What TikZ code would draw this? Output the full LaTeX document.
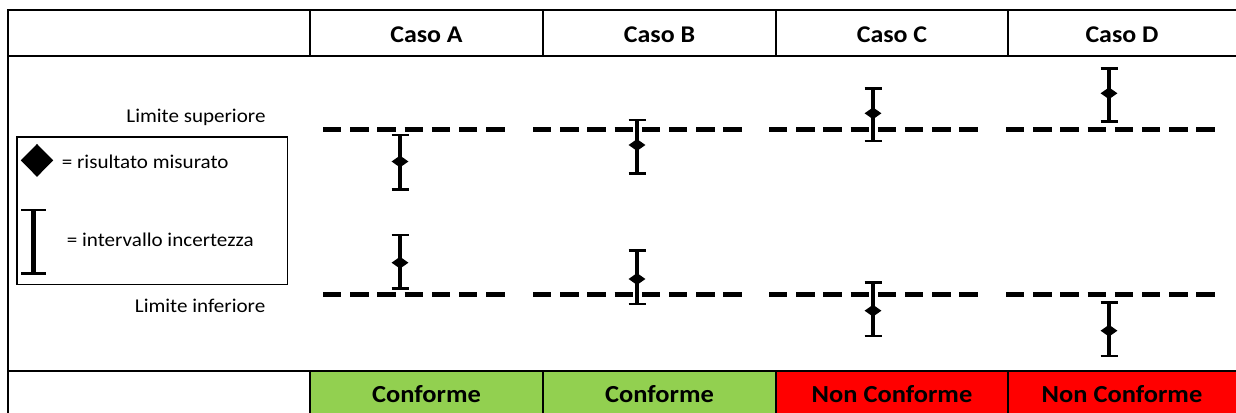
\documentclass[tikz,border=0pt]{standalone}
\usepackage{fontspec}
\setmainfont{Carlito}[FakeStretch=1.08]
\usetikzlibrary{shapes.geometric}
\definecolor{okgreen}{HTML}{92D050}
\definecolor{kored}{HTML}{FF0000}
\tikzset{
  grid/.style={line width=2pt, line cap=rect},
  head/.style={font=\fontsize{24}{28}\selectfont\bfseries, anchor=base},
  verdict/.style={font=\fontsize{24.5}{28}\selectfont\bfseries, anchor=base},
  lbl/.style={font=\fontsize{19.5}{23}\selectfont, inner sep=0pt},
  limline/.style={line width=4.6pt, dash pattern=on 18.3pt off 8.9pt},
  ebarline/.style={line width=3.4pt},
  ebarcap/.style={line width=2.8pt},
  dmd/.style={diamond, fill=black, inner sep=0pt, minimum width=17pt, minimum height=12pt},
  legbox/.style={line width=1.6pt}
}
% error bar: #1 name, #2 x, #3 top, #4 diamond y, #5 bottom
\newcommand{\drawebar}[5]{%
  \coordinate (#1t) at (#2,#3);
  \coordinate (#1b) at (#2,#5);
  \draw[ebarline] (#1t) -- (#1b);
  \draw[ebarcap] ([xshift=-8.5pt]#1t) -- ([xshift=8.5pt]#1t);
  \draw[ebarcap] ([xshift=-8.5pt]#1b) -- ([xshift=8.5pt]#1b);
  \node[dmd] (#1d) at (#2,#4) {};
}
\begin{document}
\begin{tikzpicture}[x=1pt,y=-1pt]
\useasboundingbox (0,0) rectangle (1236,412);
% bottom row fills
\fill[okgreen] (310,371) rectangle (776,420);
\fill[kored] (776,371) rectangle (1245,420);
% table lines
\draw[grid] (1245,10.5) -- (7.5,10.5) -- (7.5,420);
\draw[grid] (7.5,56.5) -- (1245,56.5);
\draw[grid] (7.5,371) -- (1245,371);
\foreach \cx in {310,543,776,1008}{
  \draw[grid] (\cx,10.5) -- (\cx,56.5);
  \draw[grid] (\cx,371) -- (\cx,420);
}
% headers
\node[head] (hA) at (426.5,43) {Caso A};
\node[head] (hB) at (659.5,43) {Caso B};
\node[head] (hC) at (892,43) {Caso C};
\node[head] (hD) at (1122,43) {Caso D};
% verdicts
\node[verdict] (vA) at (426.5,402.7) {Conforme};
\node[verdict] (vB) at (659.5,402.7) {Conforme};
\node[verdict] (vC) at (892,402.7) {Non Conforme};
\node[verdict] (vD) at (1122,402.7) {Non Conforme};
% limit labels
\node[lbl, anchor=base east] (lsup) at (265.7,122.3) {Limite superiore};
\node[lbl, anchor=base east] (linf) at (265.5,312.3) {Limite inferiore};
% legend
\draw[legbox] (17,137) rectangle (287.5,284.5);
\node[diamond, fill=black, inner sep=0pt, minimum width=32.5pt, minimum height=33pt] (ldmd) at (37,160.4) {};
\node[lbl, anchor=base west] (ltxt1) at (61.7,168.3) {= risultato misurato};
\coordinate (lbt) at (33.5,210);
\coordinate (lbb) at (33.5,273.3);
\draw[line width=4.3pt] (lbt) -- (lbb);
\draw[line width=2.8pt] ([xshift=-12.5pt]lbt) -- ([xshift=12.5pt]lbt);
\draw[line width=2.8pt] ([xshift=-12.5pt]lbb) -- ([xshift=12.5pt]lbb);
\node[lbl, anchor=base west] (ltxt2) at (66.7,246.7) {= intervallo incertezza};
% limit lines
\foreach \sx/\n in {323/7,533/8,769/8,1006/8}{
  \coordinate (us\sx) at (\sx,129.3);
  \coordinate (ue\sx) at ({\sx+(\n-1)*27.2+18.3},129.3);
  \coordinate (ls\sx) at (\sx,294.5);
  \coordinate (le\sx) at ({\sx+(\n-1)*27.2+18.3},294.5);
  \draw[limline] (us\sx) -- (ue\sx);
  \draw[limline] (ls\sx) -- (le\sx);
}
% error bars
\drawebar{au}{400}{135}{161.5}{189.3}
\drawebar{al}{400}{235}{262.7}{288.3}
\drawebar{bu}{637}{120}{145}{173.3}
\drawebar{bl}{637}{250.7}{279}{304}
\drawebar{cu}{873}{88.3}{113.3}{141}
\drawebar{cl}{873}{282.7}{310.7}{336}
\drawebar{du}{1109}{68.3}{93.3}{121.7}
\drawebar{dl}{1109}{302.3}{330.7}{356}
\end{tikzpicture}
\end{document}
